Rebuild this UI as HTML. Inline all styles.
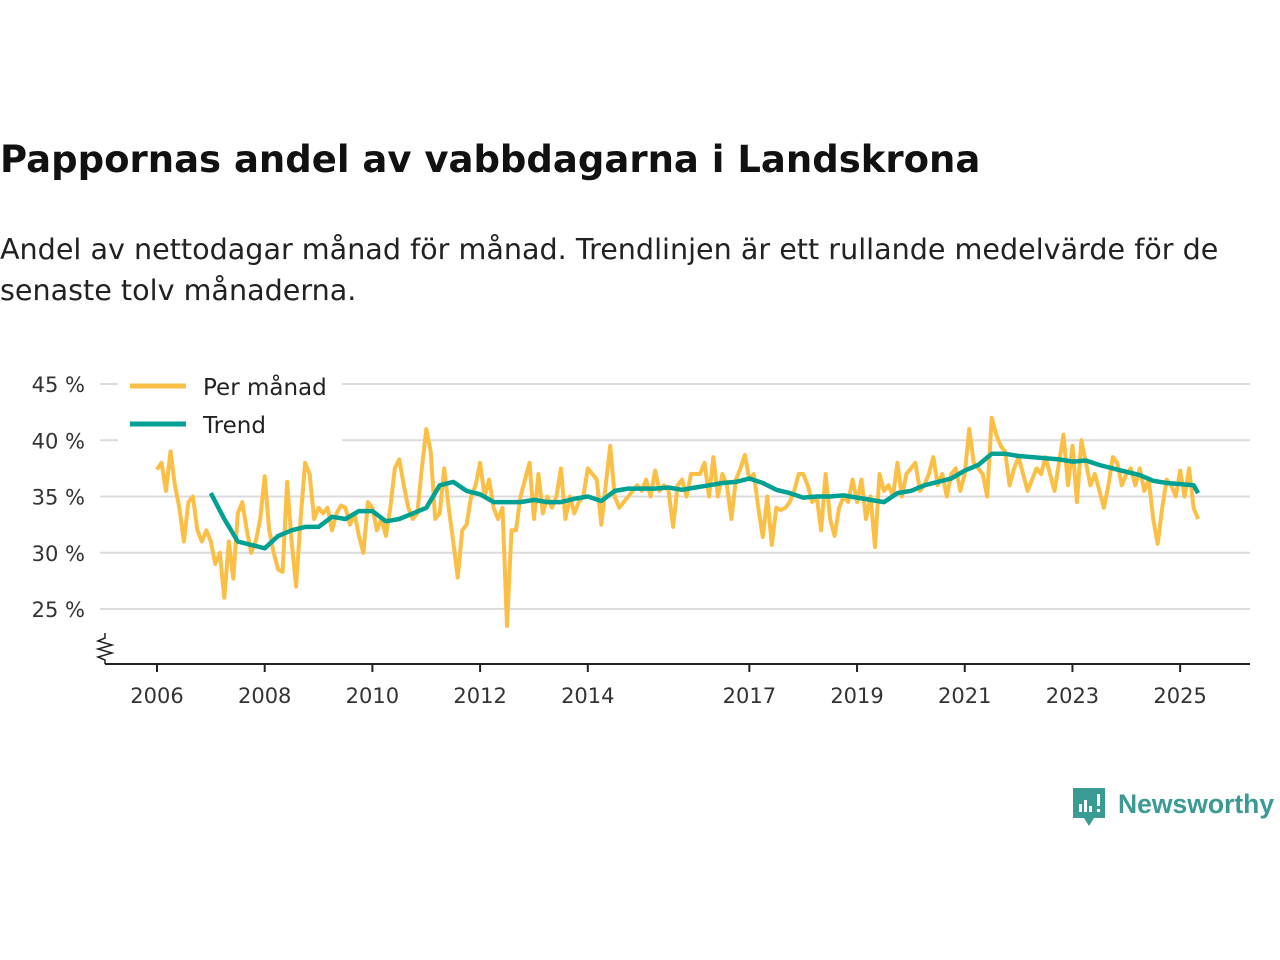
<!DOCTYPE html>
<html><head><meta charset="utf-8"><style>
body{margin:0;width:1280px;height:960px;background:#fff;font-family:"DejaVu Sans",sans-serif;position:relative;overflow:hidden}
#title{position:absolute;left:0;top:138px;font-size:37px;font-weight:bold;color:#111;white-space:nowrap}
#sub{position:absolute;left:0;top:229px;font-size:28.6px;color:#222;line-height:41px;width:1280px;white-space:nowrap}
svg{position:absolute;left:0;top:0}
</style></head><body>
<div id="title">Pappornas andel av vabbdagarna i Landskrona</div>
<div id="sub">Andel av nettodagar månad för månad. Trendlinjen är ett rullande medelvärde för de<br>senaste tolv månaderna.</div>
<svg id="chart" width="1280" height="960"></svg>
<script>
const startYear = 2006;
const monthly = [
37.4,38,35.5,39,36,34,31,34.5,35,32,31,32,
31,29,30,26,31,27.7,33.5,34.5,32,30,31,33,
36.8,32,30,28.5,28.3,36.3,31,27,33,38,37,33,
34,33.5,34,32,33.5,34.2,34,32.5,33.5,31.5,30,34.5,
34,32,33,31.5,34,37.5,38.3,36,34,33,33.5,37.5,
41,39,33,33.5,37.5,34,31,27.8,32,32.5,35,36,
38,35,36.5,34,33,34,23.5,32,32,35,36.5,38,
33,37,33.5,35,34,35,37.5,33,35,33.5,34.5,35,
37.5,37,36.5,32.5,36,39.5,35,34,34.5,35,35.5,36,
35.5,36.5,35,37.3,35.5,36,35.5,32.3,36,36.5,35,37,
37,37,38,35,38.5,35,37,36,33,36.5,37.5,38.7,
36.5,37,34,31.4,35,30.7,34,33.8,34,34.5,35.5,37,
37,36,34.5,35,32,37,33,31.5,34,35,34.5,36.5,
34.5,36.5,33,35,30.5,37,35.5,36,35,38,35,37,
37.5,38,35.5,36,37,38.5,36,37,35,37,37.5,35.5,
37,41,38,37.5,37,35,42,40.5,39.5,39,36,37.5,
38.5,37,35.5,36.5,37.5,37,38.5,37,35.5,38,40.5,36,
39.5,34.5,40,38,36,37,35.5,34,36,38.5,38,36,
37,37.5,36,37.5,35.5,36.5,33,30.8,34,36.5,36,35,
37.3,35,37.5,34,33];
const trendDates = [];
for(let y=2007;y<=2025;y++){for(const m of [1,4,7,10]){if(y===2025&&m>4)break;trendDates.push(y+'-'+m);}}
trendDates.push('2025-5');
const trend = [
35.3,33,31,30.7, 30.4,31.5,32,32.3, 32.3,33.2,33,33.7, 33.7,32.8,33,33.5,
34,36,36.3,35.5, 35.2,34.5,34.5,34.5, 34.7,34.5,34.5,34.8, 35,34.6,35.5,35.7,
35.7,35.7,35.8,35.6, 35.8,36,36.2,36.3, 36.6,36.2,35.6,35.3, 34.9,35,35,35.1,
34.9,34.7,34.5,35.3, 35.5,36,36.3,36.6, 37.3,37.8,38.8,38.8, 38.6,38.5,38.4,38.3,
38.1,38.2,37.8,37.5, 37.2,36.9,36.4,36.2, 36.1,36.0,35.3];
const yTicks = [25,30,35,40,45];
const xTicks = [2006,2008,2010,2012,2014,2017,2019,2021,2023,2025];

const NS='http://www.w3.org/2000/svg';
const svg=document.getElementById('chart');
const xs=t=>157+(t-2006)*53.85;
const ys=v=>384+(45-v)*11.25;
const FF='DejaVu Sans, sans-serif';
function el(tag,attrs){const e=document.createElementNS(NS,tag);for(const k in attrs)e.setAttribute(k,attrs[k]);svg.appendChild(e);return e;}
yTicks.forEach(v=>{
  const g=el('line',{x1:100,x2:1250,y1:ys(v),y2:ys(v),stroke:'#dcdcdc','stroke-width':2});
  
  
  const t=el('text',{x:85,y:ys(v)+8,'text-anchor':'end','font-size':21,fill:'#333','font-family':FF});
  t.textContent=v+' %';
  
  
});
const ax=el('line',{x1:105,x2:1250,y1:664,y2:664,stroke:'#222','stroke-width':2});


const zz=el('polyline',{points:'105,633 105,638 98,641 112,645 98,649 112,653 98,657 105,660 105,664',fill:'none',stroke:'#222','stroke-width':1.5});


xTicks.forEach(yr=>{
  const tk=el('line',{x1:xs(yr),x2:xs(yr),y1:664,y2:672,stroke:'#222','stroke-width':2});
  
  
  const t=el('text',{x:xs(yr),y:703,'text-anchor':'middle','font-size':21,fill:'#333','font-family':FF});
  t.textContent=yr;
  
  
});
const mp=monthly.map((v,i)=>xs(startYear+i/12).toFixed(1)+','+ys(v).toFixed(1)).join(' ');
const l1=el('polyline',{points:mp,fill:'none',stroke:'#fcbf45','stroke-width':4,'stroke-linejoin':'round'});


const tp=trend.map((v,i)=>{const [y,m]=trendDates[i].split('-').map(Number);return xs(y+(m-1)/12).toFixed(1)+','+ys(v).toFixed(1);}).join(' ');
const l2=el('polyline',{points:tp,fill:'none',stroke:'#00a193','stroke-width':4.5,'stroke-linejoin':'round'});


const lb=el('rect',{x:118,y:364,width:224,height:78,fill:'#fff'});


[['Per månad','#fcbf45',386],['Trend','#00a193',424]].forEach(([n,c,y])=>{
  const l=el('line',{x1:130,x2:186,y1:y,y2:y,stroke:c,'stroke-width':5});
  
  
  const t=el('text',{x:203,y:y+9,'font-size':23,fill:'#222','font-family':FF});
  t.textContent=n;
  
  
});
const lg=el('g',{});


lg.innerHTML='<path d="M1073 788 h32 v30 h-11 l-5 8 l-5 -8 h-11 z" fill="#3a9a94"/><rect x="1079" y="804" width="3" height="8" fill="#fff"/><rect x="1084" y="800" width="3" height="12" fill="#fff"/><rect x="1089" y="806" width="3" height="6" fill="#fff"/><rect x="1097" y="794" width="3" height="12" fill="#fff"/><rect x="1097" y="809" width="3" height="3" fill="#fff"/><text x="1118" y="813" font-size="26.5" font-weight="bold" fill="#3a9a94" font-family="Liberation Sans, sans-serif">Newsworthy</text>';
</script>
</body></html>
